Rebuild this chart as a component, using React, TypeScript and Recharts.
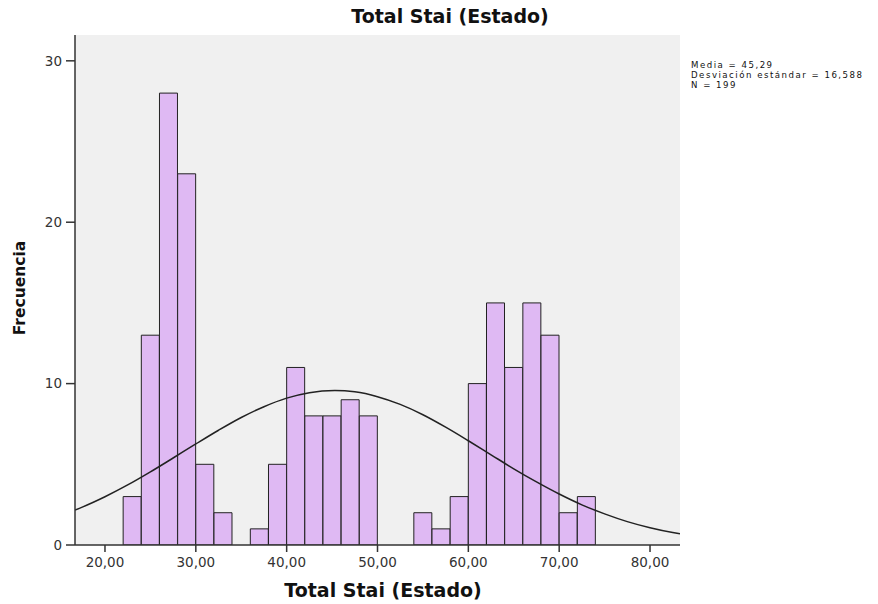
import React from 'react';
import {
  ComposedChart,
  Bar,
  Line,
  XAxis,
  YAxis,
  CartesianGrid,
} from 'recharts';

// bin centres (width 2) and counts
const binCenters = [23, 25, 27, 29, 31, 33, 35, 37, 39, 41, 43, 45, 47, 49, 51, 53, 55, 57, 59, 61, 63, 65, 67, 69, 71, 73];
const binCounts = [3, 13, 28, 23, 5, 2, 0, 1, 5, 11, 8, 8, 9, 8, 0, 0, 2, 1, 3, 10, 15, 11, 15, 13, 2, 3];

// normal curve
const curveX = [16.7, 17.5, 20, 22.5, 25, 27.5, 30, 32.5, 35, 37.5, 40, 42.5, 45.3, 47.5, 50, 52.5, 55, 57.5, 60, 62.5, 65, 67.5, 70, 72.5, 75, 77.5, 80, 82.5, 83.3];
const curveY = [2.17, 2.35, 2.99, 3.72, 4.53, 5.39, 6.26, 7.11, 7.9, 8.57, 9.1, 9.44, 9.57, 9.49, 9.19, 8.71, 8.07, 7.3, 6.46, 5.59, 4.72, 3.91, 3.16, 2.49, 1.93, 1.45, 1.07, 0.77, 0.69];

const xTicks = [20, 30, 40, 50, 60, 70, 80];
const yTicks = [0, 10, 20, 30];

const statLines = ['Media = 45,29', 'Desviación estándar = 16,588', 'N = 199'];

const FONT = '"DejaVu Sans", Verdana, sans-serif';

const bins = binCenters.map((x, i) => ({ x, count: binCounts[i] }));
const curve = curveX.map((x, i) => ({ x, curve: curveY[i] }));

const fmt = (v: number) => v.toFixed(2).replace('.', ',');

const App: React.FC = () => {
  return (
    <div style={{ position: 'absolute', left: 0, top: 0, width: 878, height: 604, background: '#fff', fontFamily: FONT }}>
      <ComposedChart
        width={878}
        height={604}
        data={bins}
        barCategoryGap={0}
        barGap={0}
        margin={{ top: 35, right: 198, left: 15, bottom: 29 }}
      >
        <CartesianGrid fill="#f0f0f0" horizontal={false} vertical={false} />
        {/* top axis doubles as frame and as x scale for the curve */}
        <XAxis
          xAxisId="top"
          orientation="top"
          type="number"
          dataKey="x"
          domain={[16.7, 83.3]}
          allowDataOverflow
          tick={false}
          tickLine={false}
          height={0}
          stroke="#333"
          strokeWidth={1.5}
        />
        <YAxis
          yAxisId="right"
          orientation="right"
          domain={[0, 31.6]}
          allowDataOverflow
          tick={false}
          tickLine={false}
          width={0}
          stroke="#333"
          strokeWidth={1.5}
        />
        <XAxis
          type="number"
          dataKey="x"
          domain={[16.7, 83.3]}
          allowDataOverflow
          ticks={xTicks}
          tickFormatter={fmt}
          tickSize={7}
          tickMargin={5}
          height={30}
          stroke="#333"
          strokeWidth={1.5}
          tick={{ fill: '#333', fontSize: 13.5, fontFamily: FONT }}
        />
        <YAxis
          domain={[0, 31.6]}
          allowDataOverflow
          ticks={yTicks}
          tickSize={9}
          tickMargin={4}
          width={60}
          stroke="#333"
          strokeWidth={1.5}
          tick={{ fill: '#333', fontSize: 13.5, fontFamily: FONT }}
        />
        <Bar
          dataKey="count"
          fill="#dfb9f3"
          stroke="#222"
          strokeWidth={1}
          isAnimationActive={false}
        />
        <Line
          xAxisId="top"
          data={curve}
          dataKey="curve"
          type="monotone"
          stroke="#222"
          strokeWidth={1.5}
          dot={false}
          isAnimationActive={false}
        />
      </ComposedChart>

      <div style={{ position: 'absolute', left: 250, width: 400, top: 5, textAlign: 'center', fontWeight: 'bold', fontSize: 19, color: '#111' }}>
        Total Stai (Estado)
      </div>
      <div style={{ position: 'absolute', left: 183, width: 400, top: 579, textAlign: 'center', fontWeight: 'bold', fontSize: 19, color: '#111' }}>
        Total Stai (Estado)
      </div>
      <div
        style={{
          position: 'absolute',
          left: 20,
          top: 288,
          transform: 'translate(-50%, -50%) rotate(-90deg)',
          fontWeight: 'bold',
          fontSize: 15.5,
          color: '#111',
          whiteSpace: 'nowrap',
        }}
      >
        Frecuencia
      </div>
      <div style={{ position: 'absolute', left: 691, top: 60, fontSize: 8.6, lineHeight: '10px', letterSpacing: 1.5, color: '#111', whiteSpace: 'nowrap' }}>
        {statLines.map((s) => (
          <div key={s}>{s}</div>
        ))}
      </div>
    </div>
  );
};

export default App;
